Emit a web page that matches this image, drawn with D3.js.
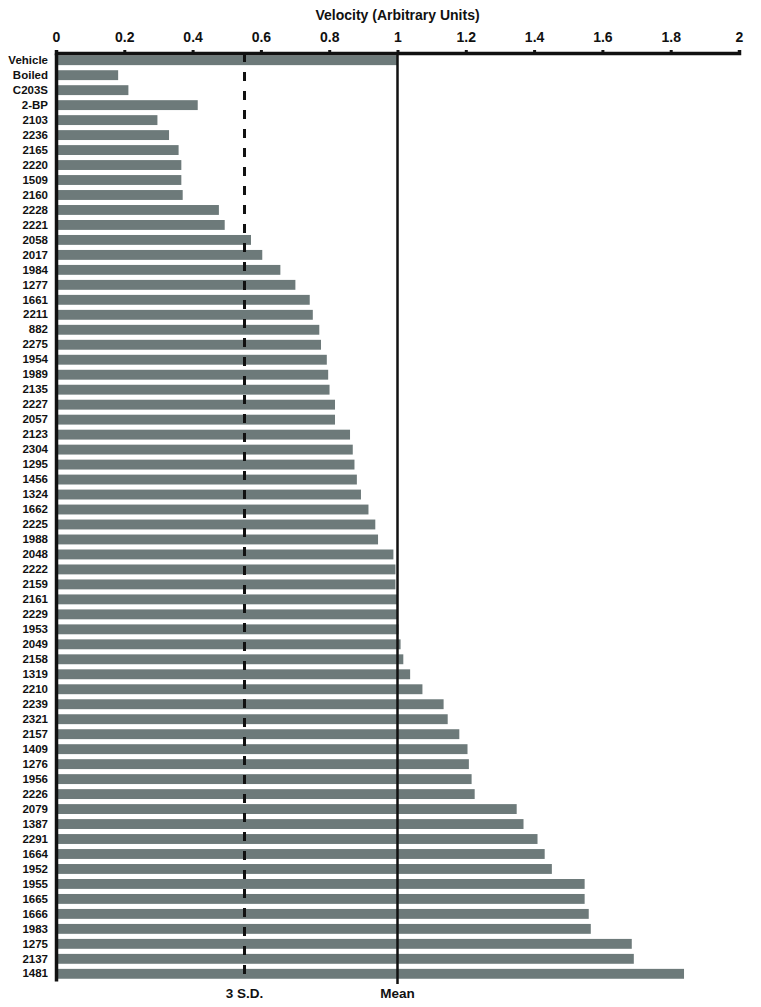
<!DOCTYPE html>
<html>
<head>
<meta charset="utf-8">
<script src="https://cdn.jsdelivr.net/npm/d3@7"></script>
<style>
  body { margin: 0; background: #fff; }
  svg { display: block; font-family: "Liberation Sans", Arial, sans-serif; }
</style>
</head>
<body>
<svg id="chart" width="761" height="1007"></svg>
<script>
const categories = [
  "Vehicle", "Boiled", "C203S", "2-BP", "2103", "2236", "2165", "2220", "1509", "2160",
  "2228", "2221", "2058", "2017", "1984", "1277", "1661", "2211", "882", "2275",
  "1954", "1989", "2135", "2227", "2057", "2123", "2304", "1295", "1456", "1324",
  "1662", "2225", "1988", "2048", "2222", "2159", "2161", "2229", "1953", "2049",
  "2158", "1319", "2210", "2239", "2321", "2157", "1409", "1276", "1956", "2226",
  "2079", "1387", "2291", "1664", "1952", "1955", "1665", "1666", "1983", "1275",
  "2137", "1481"
];

const velocity = [
  1.0, 0.182, 0.212, 0.415, 0.297, 0.331, 0.359, 0.367, 0.367, 0.371,
  0.477, 0.494, 0.571, 0.604, 0.657, 0.701, 0.743, 0.752, 0.771, 0.776,
  0.793, 0.797, 0.801, 0.817, 0.817, 0.861, 0.869, 0.874, 0.881, 0.893,
  0.915, 0.935, 0.943, 0.988, 0.994, 0.994, 0.999, 1.0, 1.003, 1.009,
  1.017, 1.037, 1.073, 1.135, 1.147, 1.181, 1.205, 1.209, 1.217, 1.226,
  1.349, 1.369, 1.41, 1.431, 1.452, 1.548, 1.548, 1.56, 1.566, 1.686,
  1.692, 1.839
];

const xTicks = [0, 0.2, 0.4, 0.6, 0.8, 1, 1.2, 1.4, 1.6, 1.8, 2];

// reference lines
const meanValue = 1.0;
const sdValue = 0.552;
const refLabels = ["3 S.D.", "Mean"];

const margin = { top: 53, right: 22, bottom: 26, left: 56 };
const width = 761, height = 1007;

const svg = d3.select("#chart");

const x = d3.scaleLinear()
  .domain([0, 2])
  .range([margin.left, width - margin.right]);

const y = d3.scaleBand()
  .domain(categories)
  .range([margin.top, height - margin.bottom])
  .paddingInner(0.34)
  .paddingOuter(0.15);

// bars
svg.append("g")
  .selectAll("rect")
  .data(categories)
  .join("rect")
  .attr("x", x(0))
  .attr("y", (d) => y(d))
  .attr("width", (d, i) => x(velocity[i]) - x(0))
  .attr("height", y.bandwidth())
  .attr("fill", "#6d7a7a");

// reference lines
svg.append("line")
  .attr("x1", x(sdValue)).attr("x2", x(sdValue))
  .attr("y1", margin.top).attr("y2", height - margin.bottom)
  .attr("stroke", "#111")
  .attr("stroke-width", 3)
  .attr("stroke-dasharray", "9,10");

svg.append("line")
  .attr("x1", x(meanValue)).attr("x2", x(meanValue))
  .attr("y1", margin.top).attr("y2", height - margin.bottom + 3)
  .attr("stroke", "#111")
  .attr("stroke-width", 2.5);

svg.append("g")
  .selectAll("text")
  .data([sdValue, meanValue])
  .join("text")
  .attr("x", (d) => x(d))
  .attr("y", 998)
  .attr("text-anchor", "middle")
  .attr("font-size", 13.5)
  .attr("font-weight", "bold")
  .attr("fill", "#111")
  .text((d, i) => refLabels[i]);

// top axis
const xAxis = svg.append("g")
  .attr("transform", `translate(0,${margin.top})`)
  .call(d3.axisTop(x).tickValues(xTicks).tickSize(3).tickPadding(8).tickFormat(d3.format("~g")));
xAxis.select(".domain").attr("stroke", "#111").attr("stroke-width", 3.5);
xAxis.selectAll(".tick line").attr("stroke", "#111").attr("stroke-width", 3);
xAxis.selectAll(".tick text")
  .attr("font-size", 14)
  .attr("font-weight", "bold")
  .attr("font-family", "Liberation Sans, Arial, sans-serif")
  .attr("fill", "#111");

svg.append("text")
  .attr("x", x(1))
  .attr("y", 20)
  .attr("text-anchor", "middle")
  .attr("font-size", 14)
  .attr("font-weight", "bold")
  .attr("fill", "#111")
  .text("Velocity (Arbitrary Units)");

// left axis
const yAxis = svg.append("g")
  .attr("transform", `translate(${margin.left},0)`)
  .call(d3.axisLeft(y).tickSize(0).tickPadding(8));
yAxis.select(".domain").attr("stroke", "#111").attr("stroke-width", 3.5);
yAxis.selectAll(".tick text")
  .attr("font-size", 11.5)
  .attr("font-weight", "bold")
  .attr("font-family", "Liberation Sans, Arial, sans-serif")
  .attr("fill", "#111");
</script>
</body>
</html>
